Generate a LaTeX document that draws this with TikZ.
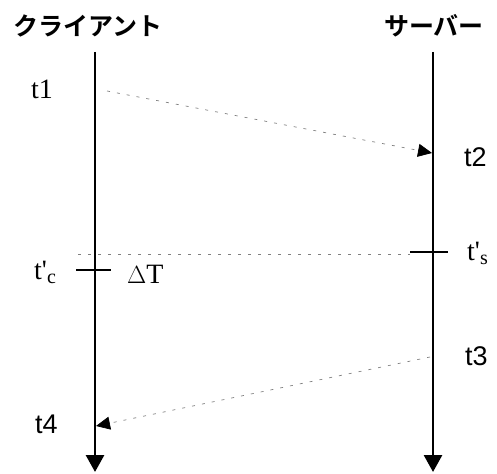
\documentclass[tikz,border=0pt]{standalone}
\usepackage{fontspec}
\setmainfont{Liberation Serif}
\newfontfamily\jpfont{Noto Sans CJK JP Bold}
\newfontfamily\sansfont{Liberation Sans}
\usetikzlibrary{arrows.meta}
\begin{document}
\begin{tikzpicture}[x=1pt,y=-1pt,
  lifeline/.style={line width=2.8pt,-{Triangle[length=17pt,width=18pt]}},
  msg/.style={gray,line width=0.7pt,dash pattern=on 3pt off 7pt,-{Triangle[length=14pt,width=13pt,black]}},
  sync/.style={gray,line width=0.7pt,dash pattern=on 3pt off 7pt},
  tick/.style={line width=1.8pt},
  title/.style={font=\jpfont\fontsize{25}{25}\selectfont,inner sep=0pt},
  serif/.style={font=\fontsize{28}{28}\selectfont,inner sep=0pt},
  sans/.style={font=\sansfont\fontsize{27}{27}\selectfont,inner sep=0pt}]
\useasboundingbox (0,0) rectangle (497,473);
% titles
\node[title] (client) at (88,26) {クライアント};
\node[title] (server) at (434,26) {サーバー};
% lifelines
\coordinate (ctop) at (95,52);
\coordinate (cbot) at (95,472);
\coordinate (stop) at (433,52);
\coordinate (sbot) at (433,472);
\draw[lifeline] (ctop) -- (cbot);
\draw[lifeline] (stop) -- (sbot);
% message 1
\coordinate (m1s) at (107,91);
\coordinate (m1e) at (432,153);
\draw[msg] (m1s) -- (m1e);
% message 2
\coordinate (m2s) at (430,357);
\coordinate (m2e) at (96,426);
\draw[msg] (m2s) -- (m2e);
% sync line
\coordinate (sy1) at (78,254);
\coordinate (sy2) at (410,254);
\draw[sync] (sy1) -- (sy2);
% ticks
\coordinate (ts1) at (410,252);
\coordinate (ts2) at (448,252);
\draw[tick] (ts1) -- (ts2);
\coordinate (tc1) at (76,270);
\coordinate (tc2) at (111,270);
\draw[tick] (tc1) -- (tc2);
% labels
\node[serif,anchor=base west] (t1) at (31,99) {t1};
\node[sans,anchor=base west] (t2) at (464,167) {t2};
\node[serif,anchor=base west] (tsp) at (467,260) {t\textquotesingle\raisebox{-4pt}{\fontsize{20}{20}\selectfont s}};
\node[serif,anchor=base west] (tcp) at (34,279) {t\textquotesingle\raisebox{-4pt}{\fontsize{20}{20}\selectfont c}};
\node[serif,anchor=base west] (dT) at (127,283) {$\Delta$T};
\node[sans,anchor=base west] (t3) at (465,365) {t3};
\node[sans,anchor=base west] (t4) at (35,433) {t4};
\end{tikzpicture}
\end{document}
